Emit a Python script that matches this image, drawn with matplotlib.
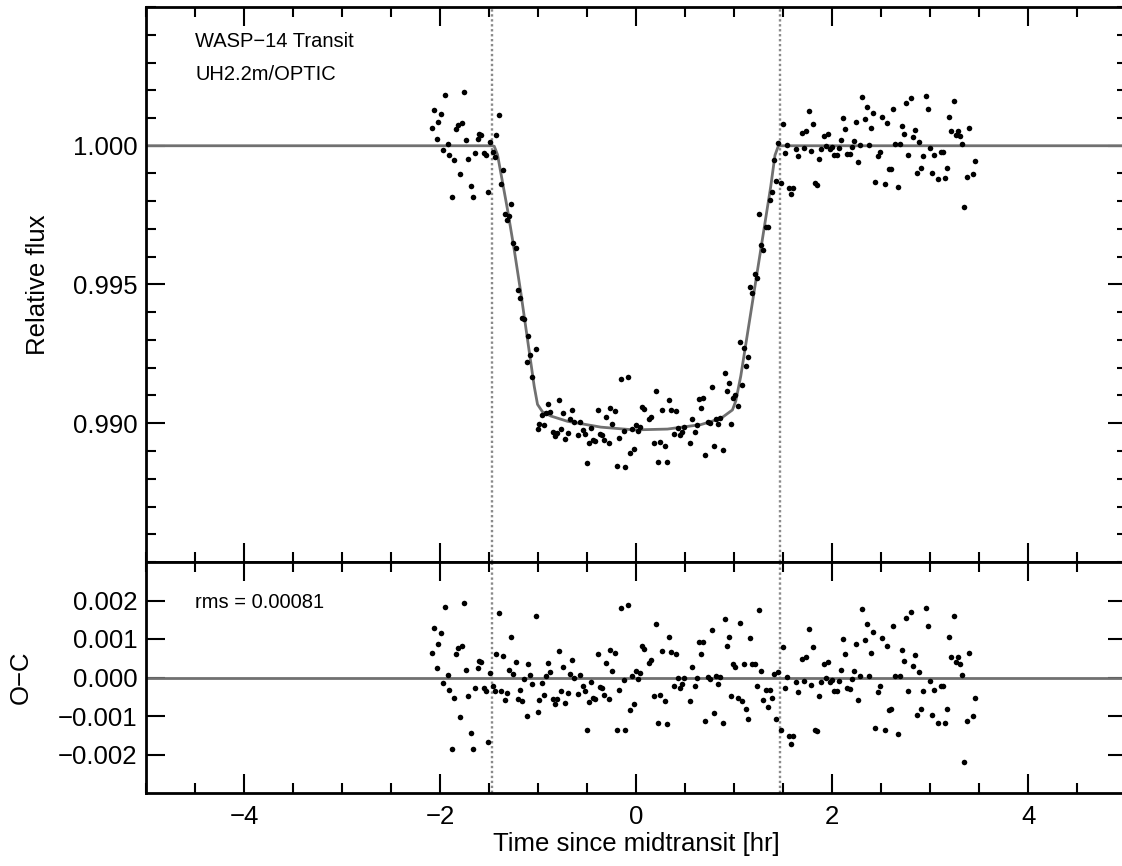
import numpy as np
import matplotlib
matplotlib.use('Agg')
import matplotlib.pyplot as plt
from matplotlib.ticker import MultipleLocator

plt.rcParams['font.family'] = ['Liberation Sans', 'DejaVu Sans']

# time since midtransit [hr] and O-C residuals [parts per thousand]
t_hr = [-2.081, -2.058, -2.037, -2.017, -1.993, -1.969, -1.949, -1.925, -1.905, -1.884,
        -1.861, -1.840, -1.816, -1.796, -1.776, -1.752, -1.732, -1.711, -1.687, -1.664,
        -1.640, -1.619, -1.602, -1.579, -1.555, -1.531, -1.511, -1.487, -1.466, -1.443,
        -1.426, -1.402, -1.378, -1.358, -1.334, -1.314, -1.293, -1.273, -1.252, -1.229,
        -1.205, -1.184, -1.164, -1.140, -1.116, -1.100, -1.083,
        -1.061, -1.027, -1.007, -0.987, -0.963, -0.942, -0.922, -0.898, -0.875, -0.854,
        -0.830, -0.810, -0.790, -0.766, -0.745, -0.722, -0.701, -0.677, -0.657, -0.633,
        -0.589, -0.569, -0.548, -0.525, -0.504, -0.480, -0.460, -0.440, -0.416, -0.392,
        -0.372, -0.348, -0.327, -0.304, -0.283, -0.263, -0.243, -0.219, -0.198, -0.175,
        -0.154, -0.130, -0.110, -0.086, -0.066, -0.045, -0.022, 0.002, 0.019, 0.040,
        0.063, 0.084,
        0.131, 0.148, 0.179, 0.199, 0.223, 0.243, 0.267, 0.291, 0.311, 0.335,
        0.359, 0.382, 0.403, 0.427, 0.447, 0.471, 0.488, 0.552, 0.573, 0.596,
        0.617, 0.641, 0.661, 0.685, 0.705, 0.729, 0.749, 0.770, 0.794, 0.814,
        0.838, 0.858, 0.882, 0.902, 0.923, 0.946, 0.967, 0.991, 1.008, 1.035,
        1.055, 1.079, 1.096, 1.120, 1.144, 1.164, 1.184, 1.215, 1.235, 1.249, 1.270,
        1.296, 1.320, 1.340, 1.364, 1.385, 1.405, 1.429, 1.449, 1.473, 1.493,
        1.517, 1.537, 1.558, 1.582, 1.602, 1.626, 1.650, 1.690, 1.714, 1.735,
        1.758, 1.779, 1.802, 1.823, 1.847, 1.867, 1.887, 1.911, 1.935, 1.955,
        1.976, 1.996, 2.020, 2.044, 2.068, 2.088, 2.108, 2.132, 2.152, 2.176,
        2.197, 2.220, 2.241, 2.265, 2.285, 2.305, 2.329, 2.350, 2.373, 2.394,
        2.414, 2.431,
        2.461, 2.482, 2.502, 2.536, 2.557, 2.577, 2.601, 2.621, 2.641, 2.665,
        2.686, 2.709, 2.730, 2.754, 2.774, 2.798, 2.818, 2.839, 2.862, 2.883,
        2.907, 2.927, 2.951, 2.971, 2.991, 3.015, 3.036, 3.080, 3.104, 3.124,
        3.148, 3.168, 3.192, 3.212, 3.236, 3.256, 3.280, 3.301, 3.325, 3.345,
        3.369, 3.389, 3.433, 3.454]

oc_ppt = [0.64, 1.28, 0.24, 0.86, 1.15, -0.14, 1.83, 0.07, -0.33, -1.85,
          -0.53, 0.60, 0.76, -1.03, 0.81, 1.93, 0.19, -0.47, -1.45, -1.85,
          -0.26, 0.25, 0.44, 0.40, -0.26, -0.34, -1.68, 0.12, -0.23, -0.35,
          0.60, 1.67, -0.35, 0.56, -0.58, -0.41, 0.20, 1.04, 0.10, 0.41,
          -0.55, -0.33, -0.60, -0.03, -1.00, 0.35, 0.07,
          -0.16, 1.61, -0.89, -0.59, -0.15, -0.45, 0.03, 0.38, 0.13, -0.56,
          -0.69, -0.56, 0.68, -0.34, 0.26, -0.66, -0.41, 0.08, 0.45, 0.00,
          -0.44, 0.06, -0.23, -0.35, -1.37, -0.63, -0.11, -0.53, -0.55, 0.61,
          -0.25, -0.28, -0.45, 0.38, -0.56, 0.71, 0.16, 0.63, -1.37, -0.33,
          1.81, -0.07, -1.37, 1.88, -0.84, 0.04, -0.70, 0.16, -0.05, 0.11,
          0.83, 0.73,
          0.37, 0.45, -0.48, 1.40, -1.18, -0.46, 0.69, -0.60, -1.20, 1.04,
          0.66, -0.21, 0.60, -0.02, -0.28, -0.16, -0.02, -0.61, 0.26, -0.23,
          -0.01, 0.92, 0.60, 0.92, -1.13, 0.01, -0.03, 1.24, -0.93, 0.05,
          -0.18, 0.01, -1.17, 1.53, 0.83, 1.06, -0.47, 0.35, 0.27, -0.53,
          1.42, -0.60, 0.35, -0.83, -1.07, 1.03, 0.35, 0.36, -0.23, 1.76, 0.18,
          -0.58, -0.32, -0.77, -0.32, -0.54, 0.09, -1.08, 0.13, -1.36, 0.78,
          -0.26, 0.01, -1.53, -1.74, -1.51, -0.11, -0.38, 0.47, -0.08, 0.54,
          1.25, -0.19, 0.80, -1.36, -1.40, -0.48, -0.11, 0.36, -0.01, 0.41,
          -0.11, -0.06, -0.35, -0.34, -0.09, 0.19, 0.99, 0.60, -0.28, -0.30,
          -0.03, 0.16, 0.87, -0.59, 0.03, 1.77, 0.98, 1.38, 0.03, 0.64,
          1.17, -1.30,
          -0.37, -0.22, 1.03, -1.37, 0.81, -0.85, -0.83, 1.34, 0.05, -1.47,
          0.05, 0.71, 0.44, 1.54, -0.35, 1.71, 0.31, 0.58, -0.98, 0.15,
          -0.81, -0.36, 1.81, 1.34, -0.08, -0.98, -0.33, -1.19, -0.21, -0.21,
          -1.17, -0.81, 1.04, 0.53, 1.60, 0.39, 0.54, 0.35, 0.07, -2.20,
          -1.12, 0.63, -1.01, -0.54]

# best-fit transit model
model_t = [-5.0, -1.47, -1.448, -1.415, -1.381, -1.313, -1.245, -1.177, -1.109, -1.041,
           -1.007, -0.956, -0.871, -0.701, -0.361, -0.022, 0.318, 0.658, 0.862, 0.981,
           1.015, 1.066, 1.168, 1.270, 1.372, 1.415, 1.448, 1.47, 5.0]
model_f = [1.0, 1.0, 0.99998, 0.99968, 0.99902, 0.99770, 0.99626, 0.99470, 0.99302, 0.99134,
           0.99068, 0.99041, 0.99026, 0.99007, 0.98986, 0.98976, 0.98979, 0.98995, 0.99017, 0.99048,
           0.99080, 0.99170, 0.99398, 0.99626, 0.99854, 0.99966, 0.99998, 1.0, 1.0]

t_first, t_last = -1.47, 1.47
rms_text = 'rms = 0.00081'

t = np.array(t_hr)
oc = np.array(oc_ppt) * 1e-3
# observed = model + residual
flux = np.interp(t, model_t, model_f) + oc

fig = plt.figure(figsize=(11.22, 8.66), dpi=100)
W, H = 1122.0, 866.0
x0, x1 = 146 / W, 1126.5 / W
ax1 = fig.add_axes([x0, 1 - 562 / H, x1 - x0, 555 / H])
ax2 = fig.add_axes([x0, 1 - 793 / H, x1 - x0, 231 / H])

line_col = '#707070'
for ax in (ax1, ax2):
    ax.axvline(t_first, color='#8a8a8a', ls=(0, (1, 1.1)), lw=1.7, zorder=1)
    ax.axvline(t_last, color='#8a8a8a', ls=(0, (1, 1.1)), lw=1.7, zorder=1)
    ax.set_xlim(-5, 5)
    ax.xaxis.set_major_locator(MultipleLocator(2))
    ax.xaxis.set_minor_locator(MultipleLocator(0.5))
    ax.tick_params(which='both', direction='in', top=True, right=True, width=1.5)
    ax.tick_params(which='major', length=13.5, labelsize=18.5)
    ax.tick_params(which='minor', length=7)
    ax.tick_params(axis='x', pad=9)
    ax.tick_params(axis='y', pad=6)
    for s in ax.spines.values():
        s.set_linewidth(2.0)

ax1.plot(model_t, model_f, color=line_col, lw=2, zorder=2)
ax1.plot(t, flux, 'o', color='black', ms=4, mew=0, zorder=3)
ax1.set_ylim(0.985, 1.005)
ax1.set_yticks([0.990, 0.995, 1.000])
ax1.yaxis.set_minor_locator(MultipleLocator(0.001))
ax1.set_yticklabels(['0.990', '0.995', '1.000'])
ax1.tick_params(axis='x', labelbottom=False)
ax1.set_ylabel('Relative flux', fontsize=18.5)
ax1.yaxis.set_label_coords(-0.098, 0.5)
ax1.text(0.05, 0.9375, 'WASP\u221214 Transit', transform=ax1.transAxes,
         fontsize=14.5, va='center', ha='left')
ax1.text(0.05, 0.8775, 'UH2.2m/OPTIC', transform=ax1.transAxes,
         fontsize=14.5, va='center', ha='left')

ax2.axhline(0, color=line_col, lw=2, zorder=2)
ax2.plot(t, oc, 'o', color='black', ms=4, mew=0, zorder=3)
ax2.set_ylim(-0.003, 0.003)
ax2.set_yticks([-0.002, -0.001, 0.0, 0.001, 0.002])
ax2.set_yticklabels(['\u22120.002', '\u22120.001', '0.000', '0.001', '0.002'])
ax2.set_ylabel('O\u2212C', fontsize=18.5)
ax2.yaxis.set_label_coords(-0.115, 0.5)
ax2.set_xlabel('Time since midtransit [hr]', fontsize=18.5, labelpad=2)
ax2.text(0.05, 0.823, rms_text, transform=ax2.transAxes,
         fontsize=14.5, va='center', ha='left')

fig.savefig('out.png', dpi=100)
